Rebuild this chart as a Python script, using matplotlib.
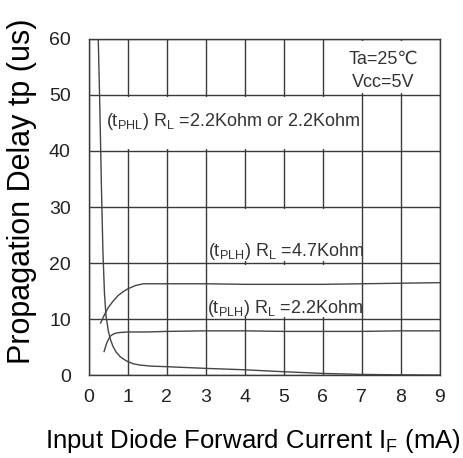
import matplotlib
matplotlib.use("Agg")
from matplotlib import pyplot as plt
from matplotlib.patches import Rectangle

plt.rcParams['font.family'] = ['Liberation Sans', 'DejaVu Sans']
plt.rcParams['mathtext.fontset'] = 'custom'
plt.rcParams['mathtext.rm'] = 'Liberation Sans'

# tPHL, RL = 2.2Kohm
phl_x = [0.24, 0.28, 0.32, 0.36, 0.40, 0.44, 0.50, 0.56, 0.62, 0.70, 0.80, 0.90, 1.0,
         1.15, 1.3, 1.6, 2.0, 3.0, 4.0, 5.0, 6.0, 7.0, 8.0, 9.0]
phl_y = [60.0, 48.0, 34.0, 22.0, 14.5, 10.5, 7.8, 6.2, 5.1, 4.1, 3.3, 2.8, 2.4,
         2.0, 1.8, 1.6, 1.5, 1.2, 0.95, 0.6, 0.3, 0.12, 0.05, 0.0]

# tPLH, RL = 4.7Kohm
plh47_x = [0.30, 0.40, 0.50, 0.62, 0.75, 0.88, 1.0, 1.2, 1.4, 2.0, 3.0, 4.0, 5.0, 6.0, 7.0, 8.0, 9.0]
plh47_y = [9.3, 10.8, 12.1, 13.2, 14.2, 14.9, 15.4, 16.0, 16.3, 16.3, 16.3, 16.2, 16.2, 16.2, 16.3, 16.4, 16.5]

# tPLH, RL = 2.2Kohm
plh22_x = [0.39, 0.45, 0.54, 0.62, 0.70, 0.80, 1.0, 1.5, 2.0, 3.0, 4.0, 5.0, 6.0, 7.0, 8.0, 9.0]
plh22_y = [4.2, 5.6, 6.9, 7.3, 7.5, 7.6, 7.7, 7.7, 7.8, 7.9, 7.9, 7.8, 7.8, 7.8, 7.9, 7.9]

x_ticks = list(range(0, 10))
y_ticks = list(range(0, 70, 10))

# white label backgrounds that hide the grid: (x0, y0, width, height)
label_boxes = [(6.05, 50.3, 2.9, 9.4), (0.45, 40.3, 6.45, 9.4),
               (3.05, 20.3, 3.85, 9.4), (3.05, 10.3, 3.85, 9.4)]

fig = plt.figure(figsize=(4.63, 4.58), dpi=100)
ax = fig.add_axes([0.192, 0.181, 0.758, 0.734])

line_kw = dict(color='#454545', lw=1.0, zorder=3)
ax.plot(phl_x, phl_y, **line_kw)
ax.plot(plh47_x, plh47_y, **line_kw)
ax.plot(plh22_x, plh22_y, **line_kw)

for x0, y0, w, h in label_boxes:
    ax.add_patch(Rectangle((x0, y0), w, h, facecolor='white', edgecolor='none', zorder=1))

ax.set_xlim(0, 9)
ax.set_ylim(0, 60)
ax.set_xticks(x_ticks)
ax.set_yticks(y_ticks)
ax.tick_params(length=0, labelsize=14, labelcolor='#222222')
ax.tick_params(axis='x', pad=10)
ax.tick_params(axis='y', pad=13)
ax.set_axisbelow(True)
ax.grid(True, color='#3a3a3a', lw=1.0)
for s in ax.spines.values():
    s.set_color('#3a3a3a')
    s.set_linewidth(1.0)
    s.set_zorder(2)

ax.set_xlabel(r'Input Diode Forward Current I$_{\mathregular{F}}$ (mA)', fontsize=18.5)
ax.xaxis.set_label_coords(0.467, -0.155)
ax.set_ylabel('Propagation Delay tp (us)', fontsize=22)
ax.yaxis.set_label_coords(-0.148, 0.548)

txt_kw = dict(fontsize=13, color='#333333', zorder=4)
ax.text(7.55, 54.3, 'Ta=25\u2103\nVcc=5V', ha='center', va='center', linespacing=1.5, **txt_kw)
ax.text(0.45, 45.2, r'(t$_{\mathregular{PHL}}$) R$_{\mathregular{L}}$ =2.2Kohm or 2.2Kohm', ha='left', va='center', **txt_kw)
ax.text(3.05, 22.0, r'(t$_{\mathregular{PLH}}$) R$_{\mathregular{L}}$ =4.7Kohm', ha='left', va='center', **txt_kw)
ax.text(3.03, 11.8, r'(t$_{\mathregular{PLH}}$) R$_{\mathregular{L}}$ =2.2Kohm', ha='left', va='center', **txt_kw)

fig.savefig('out.png', dpi=100)
